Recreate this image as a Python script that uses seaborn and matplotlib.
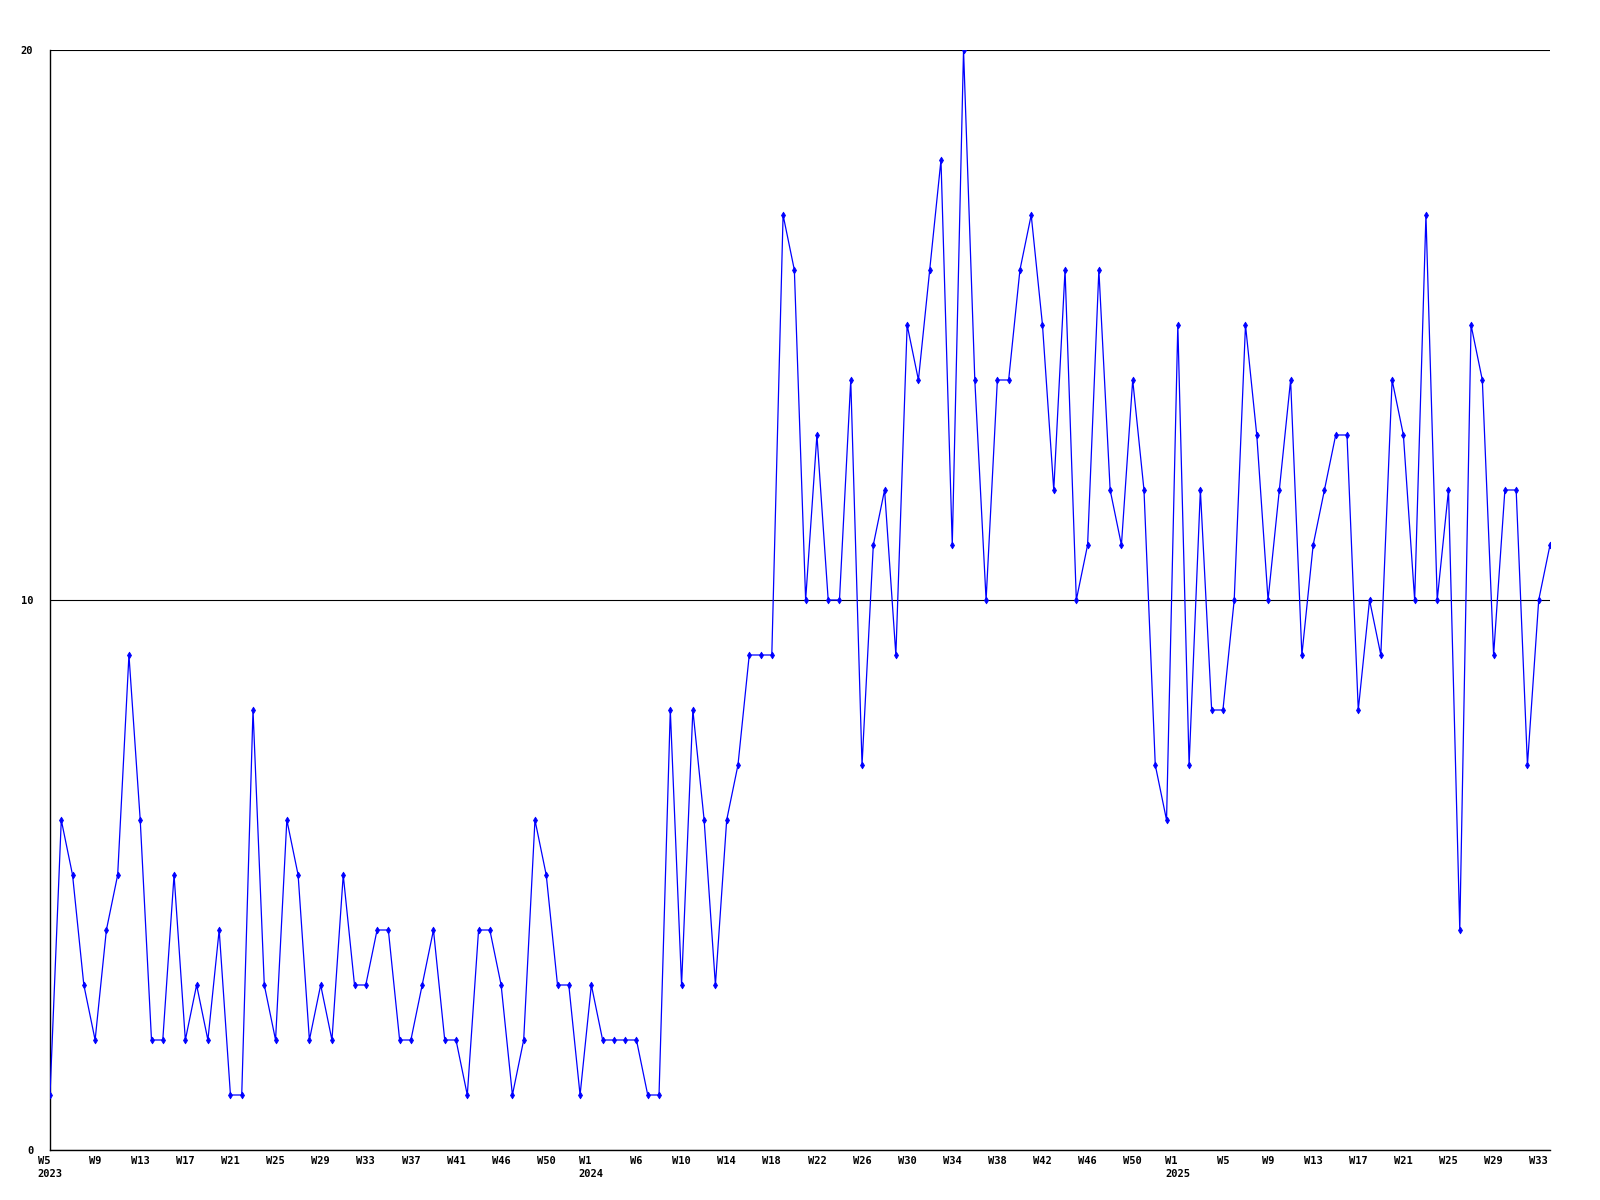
import numpy as np
import pandas as pd
import matplotlib
matplotlib.use("Agg")
import matplotlib.pyplot as plt
import seaborn as sns

# weekly counts, 2023 W5 .. 2025 W34
counts = [
    1, 6, 5, 3, 2, 4, 5, 9, 6, 2, 2, 5, 2, 3, 2, 4, 1, 1, 8, 3,
    2, 6, 5, 2, 3, 2, 5, 3, 3, 4, 4, 2, 2, 3, 4, 2, 2, 1, 4, 4,
    3, 1, 2, 6, 5, 3, 3, 1, 3, 2, 2, 2, 2, 1, 1, 8, 3, 8, 6, 3,
    6, 7, 9, 9, 9, 17, 16, 10, 13, 10, 10, 14, 7, 11, 12, 9, 15, 14, 16, 18,
    11, 20, 14, 10, 14, 14, 16, 17, 15, 12, 16, 10, 11, 16, 12, 11, 14, 12, 7, 6,
    15, 7, 12, 8, 8, 10, 15, 13, 10, 12, 14, 9, 11, 12, 13, 13, 8, 10, 9, 14,
    13, 10, 17, 10, 12, 4, 15, 14, 9, 12, 12, 7, 10, 11,
]

tick_labels = [
    "W5\n2023", "W9", "W13", "W17", "W21", "W25", "W29", "W33", "W37", "W41",
    "W46", "W50", "W1\n2024", "W6", "W10", "W14", "W18", "W22", "W26", "W30",
    "W34", "W38", "W42", "W46", "W50", "W1\n2025", "W5", "W9", "W13", "W17",
    "W21", "W25", "W29", "W33",
]
y_ticks = [0, 10, 20]

df = pd.DataFrame({"week": np.arange(len(counts)), "count": counts})

sns.set_style("white")
plt.rcParams["font.family"] = ["DejaVu Sans Mono"]

fig = plt.figure(figsize=(16, 12), dpi=100)
ax = fig.add_axes([50 / 1600, 50 / 1200, 1500 / 1600, 1100 / 1200])

sns.lineplot(data=df, x="week", y="count", ax=ax, color="#0000ff",
             linewidth=0.9, marker="d", markersize=3.5, markeredgewidth=0.5,
             markeredgecolor="#0000ff", estimator=None, zorder=3)

ax.set_xlim(0, len(counts) - 1)
ax.set_ylim(0, 20)
ax.set_xlabel("")
ax.set_ylabel("")

ax.set_yticks(y_ticks)
ax.set_yticklabels([str(v) for v in y_ticks], fontsize=7.5, fontweight="bold")
ax.set_xticks(np.arange(0, len(counts), 4))
ax.set_xticklabels(tick_labels, fontsize=7.5, fontweight="bold", linespacing=1.45)
for lab in ax.get_xticklabels():
    lab.set_multialignment("left")
ax.tick_params(axis="y", length=0, pad=12, labelcolor="black")
ax.tick_params(axis="x", length=0, pad=4, labelcolor="black")

ax.yaxis.grid(True, color="black", linewidth=0.8)
ax.xaxis.grid(False)
for side in ["top", "right"]:
    ax.spines[side].set_visible(False)
for side in ["left", "bottom"]:
    ax.spines[side].set_color("black")
    ax.spines[side].set_linewidth(1.0)

fig.savefig("out.png", dpi=100)
